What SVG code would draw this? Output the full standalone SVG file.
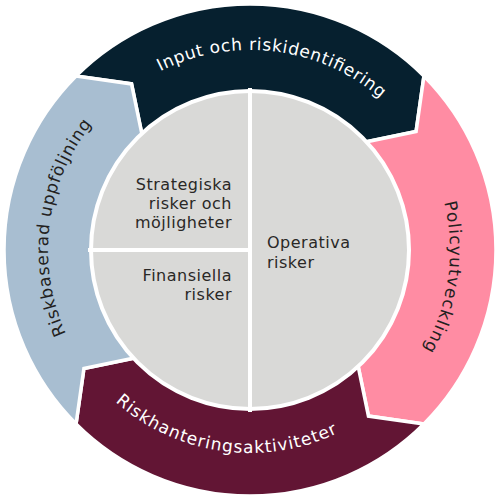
<svg xmlns="http://www.w3.org/2000/svg" width="500" height="500" viewBox="0 0 500 500">
<style>
.seg{stroke:#ffffff;stroke-width:3.5;stroke-linejoin:miter}
.ring{font-family:"DejaVu Sans","Liberation Sans",sans-serif;font-size:17px}
.inner{font-family:"DejaVu Sans","Liberation Sans",sans-serif;font-size:16px;letter-spacing:0.5px;fill:#2a2826}
.div{stroke:#ffffff;stroke-width:4}
</style>
<defs>
<path id="pTop" d="M 58.74,191.53 A 200 200 0 0 1 449.73,239.53" fill="none"/>
<path id="pRight" d="M 311.80,59.79 A 200 200 0 0 1 256.98,449.88" fill="none"/>
<path id="pBottom" d="M 47.12,257.08 A 203 203 0 0 0 443.06,312.73" fill="none"/>
<path id="pLeft" d="M 190.94,443.17 A 202 202 0 0 1 239.43,48.28" fill="none"/>
</defs>
<rect width="500" height="500" fill="#ffffff"/>
<g id="input">
<path class="seg" fill="#06202f" d="M 76.05,76.05 A 246 246 0 0 1 423.95,76.05 L 416.08,131.54 L 356.07,143.93 A 150 150 0 0 0 143.93,143.93 L 131.54,83.92 Z"/>
<text class="ring" fill="#ffffff"><textPath href="#pTop" startOffset="50%" text-anchor="middle" textLength="235" lengthAdjust="spacing">Input och riskidentifiering</textPath></text>
</g>
<g id="policy">
<path class="seg" fill="#ff8ca3" d="M 423.95,76.05 A 246 246 0 0 1 423.95,423.95 L 368.46,416.08 L 356.07,356.07 A 150 150 0 0 0 356.07,143.93 L 416.08,131.54 Z"/>
<text class="ring" fill="#231f20"><textPath href="#pRight" startOffset="50%" text-anchor="middle" textLength="152" lengthAdjust="spacing">Policyutveckling</textPath></text>
</g>
<g id="riskhantering">
<path class="seg" fill="#621534" d="M 423.95,423.95 A 246 246 0 0 1 76.05,423.95 L 83.92,368.46 L 143.93,356.07 A 150 150 0 0 0 356.07,356.07 L 368.46,416.08 Z"/>
<text class="ring" fill="#ffffff"><textPath href="#pBottom" startOffset="50%" text-anchor="middle" textLength="238" lengthAdjust="spacing">Riskhanteringsaktiviteter</textPath></text>
</g>
<g id="uppfoljning">
<path class="seg" fill="#a8bed1" d="M 76.05,423.95 A 246 246 0 0 1 76.05,76.05 L 131.54,83.92 L 143.93,143.93 A 150 150 0 0 0 143.93,356.07 L 83.92,368.46 Z"/>
<text class="ring" fill="#231f20"><textPath href="#pLeft" startOffset="50%" text-anchor="middle" textLength="222" lengthAdjust="spacing">Riskbaserad uppföljning</textPath></text>
</g>
<g id="center">
<circle cx="250" cy="250" r="159" fill="#d9d9d7" stroke="#ffffff" stroke-width="4"/>
</g>
<g id="connectors">
<line class="div" x1="250" y1="88" x2="250" y2="412"/>
<line class="div" x1="88" y1="250" x2="250" y2="250"/>
</g>
<g id="strategiska">
<text class="inner" text-anchor="end"><tspan x="232" y="190">Strategiska</tspan><tspan x="232" y="209">risker och</tspan><tspan x="232" y="228">möjligheter</tspan></text>
</g>
<g id="finansiella">
<text class="inner" text-anchor="end"><tspan x="232" y="281">Finansiella</tspan><tspan x="232" y="300">risker</tspan></text>
</g>
<g id="operativa">
<text class="inner"><tspan x="267" y="248">Operativa</tspan><tspan x="267" y="268">risker</tspan></text>
</g>
</svg>
